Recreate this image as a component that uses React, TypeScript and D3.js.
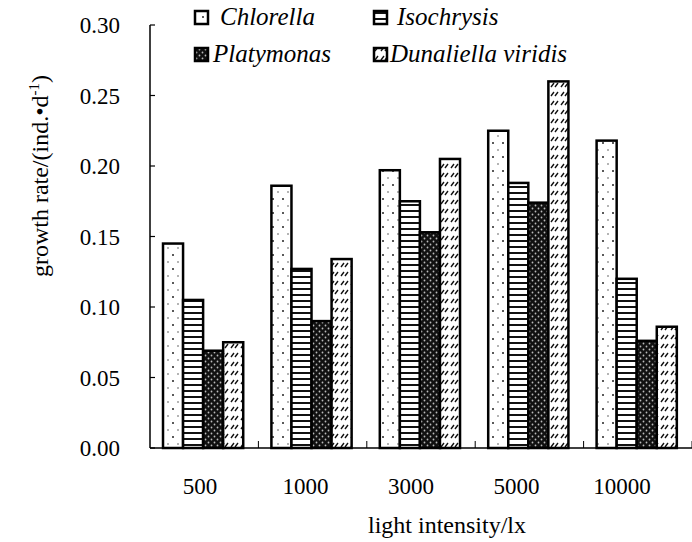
import React from "react";
import * as d3 from "d3";

const categories = ["500", "1000", "3000", "5000", "10000"];
const seriesNames = ["Chlorella", "Isochrysis", "Platymonas", "Dunaliella viridis"];
const chlorella = [0.145, 0.186, 0.197, 0.225, 0.218];
const isochrysis = [0.105, 0.127, 0.175, 0.188, 0.12];
const platymonas = [0.069, 0.09, 0.153, 0.174, 0.076];
const dunaliella = [0.075, 0.134, 0.205, 0.26, 0.086];
const yTicks = [0, 0.05, 0.1, 0.15, 0.2, 0.25, 0.3];

const width = 692;
const height = 542;
const FONT = "Liberation Serif";
const patternIds = ["pat-chl", "pat-iso", "pat-pla", "pat-dun"];

const App = () => {
  const values = [chlorella, isochrysis, platymonas, dunaliella];

  const x = d3.scaleBand().domain(categories).range([150, 692]);
  const xInner = d3.scaleBand().domain(seriesNames)
    .range([x.bandwidth() * 0.12, x.bandwidth() * 0.86]);
  const xLabel = d3.scalePoint().domain(categories).range([200, 622]);
  const y = d3.scaleLinear().domain([0, 0.3]).range([448, 25]);
  const fmt = d3.format(".2f");

  const legendPos = [[195, 25], [374, 25], [195, 62], [374, 62]];
  const textX = [220, 397, 213, 390];

  return (
    <svg width={width} height={height} fontFamily={FONT}
      style={{ position: "absolute", left: 0, top: 0, background: "#fff" }}>
      <defs>
        <pattern id="pat-chl" patternUnits="userSpaceOnUse" width={10} height={14}>
          <rect width={10} height={14} fill="#fff" />
          <circle cx={3} cy={3} r={1} fill="#222" />
          <circle cx={8} cy={10} r={0.8} fill="#555" />
        </pattern>
        <pattern id="pat-iso" patternUnits="userSpaceOnUse" width={10} height={6}>
          <rect width={10} height={6} fill="#fff" />
          <rect width={10} height={2} fill="#111" />
        </pattern>
        <pattern id="pat-pla" patternUnits="userSpaceOnUse" width={6} height={6}>
          <rect width={6} height={6} fill="#111" />
          <circle cx={1.5} cy={1.5} r={0.9} fill="#bbb" />
          <circle cx={4.5} cy={4.5} r={0.9} fill="#bbb" />
        </pattern>
        <pattern id="pat-dun" patternUnits="userSpaceOnUse" width={10} height={9}>
          <rect width={10} height={9} fill="#fff" />
          <path d="M1,6 L4,2 M5,6 L8,2" stroke="#111" strokeWidth={1.4} />
        </pattern>
      </defs>

      {/* bars */}
      {seriesNames.map((name, s) => (
        <g key={name}>
          {values[s].map((d, i) => (
            <rect key={i}
              x={x(categories[i])! + xInner(name)!}
              y={y(d)}
              width={xInner.bandwidth()}
              height={y(0) - y(d)}
              fill={`url(#${patternIds[s]})`}
              stroke="#000" strokeWidth={2.5} />
          ))}
        </g>
      ))}

      {/* y axis */}
      <line x1={150} x2={150} y1={y(0.3)} y2={y(0)} stroke="#000" strokeWidth={1.5} />
      {yTicks.map(t => (
        <g key={t}>
          <line x1={150} x2={155} y1={y(t)} y2={y(t)} stroke="#000" strokeWidth={1.2} />
          <text x={120} y={y(t) + 8} textAnchor="end" fontFamily={FONT} fontSize={23}>{fmt(t)}</text>
        </g>
      ))}

      {/* x axis */}
      <line x1={150} x2={692} y1={y(0)} y2={y(0)} stroke="#000" strokeWidth={1.5} />
      {categories.map(c => (
        <g key={c}>
          <line x1={x(c)! + x.bandwidth()} x2={x(c)! + x.bandwidth()} y1={y(0)} y2={y(0) - 7} stroke="#000" />
          <text x={xLabel(c)} y={494} textAnchor="middle" fontFamily={FONT} fontSize={23}>{c}</text>
        </g>
      ))}

      <text x={447} y={533} textAnchor="middle" fontFamily={FONT} fontSize={24}>light intensity/lx</text>
      <text transform="translate(48,176) rotate(-90)" textAnchor="middle" fontFamily={FONT} fontSize={24}>
        growth rate/(ind.{"\u2022"}d<tspan dy={-9} fontSize={15}>-1</tspan><tspan dy={9}>)</tspan>
      </text>

      {/* legend */}
      {seriesNames.map((name, s) => (
        <g key={name}>
          <rect x={legendPos[s][0]} y={legendPos[s][1] - 14} width={13} height={13}
            fill={`url(#${patternIds[s]})`} stroke="#000" strokeWidth={2.5} />
          <text x={textX[s]} y={legendPos[s][1]} fontFamily={FONT} fontStyle="italic" fontSize={25}>{name}</text>
        </g>
      ))}
    </svg>
  );
};

export default App;
